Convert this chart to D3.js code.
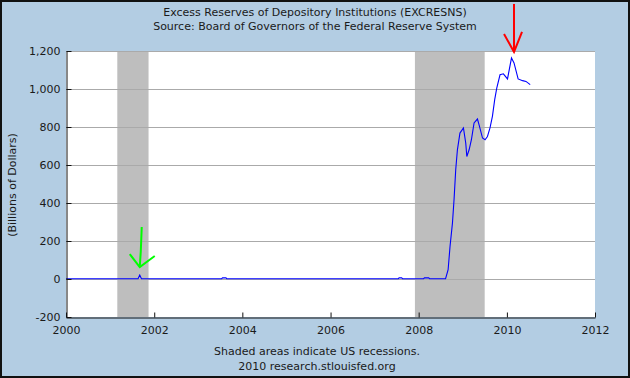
<!DOCTYPE html>
<html>
<head>
<meta charset="utf-8">
<script src="https://cdn.jsdelivr.net/npm/d3@7"></script>
<style>
  body { margin: 0; background: #fff; }
  text { font-family: "DejaVu Sans", Verdana, sans-serif; fill: #1a1a1a; }
</style>
</head>
<body>
<div id="chart"></div>
<script>
// Series: excess reserves, billions of dollars
const dates = [
  '2000-01-01', '2001-08-20', '2001-09-03', '2001-09-17',
  '2003-07-14', '2003-07-21', '2003-08-18', '2003-08-25',
  '2007-07-16', '2007-07-23', '2007-08-13', '2007-08-20',
  '2008-02-11', '2008-02-18', '2008-03-24', '2008-03-31',
  '2008-08-11', '2008-09-01', '2008-09-17', '2008-10-07', '2008-10-20',
  '2008-11-03', '2008-11-17', '2008-12-08', '2009-01-06', '2009-01-25',
  '2009-02-03', '2009-02-22', '2009-03-13', '2009-04-04', '2009-05-02',
  '2009-05-15', '2009-06-13', '2009-07-04', '2009-07-24', '2009-08-14',
  '2009-09-03', '2009-09-22', '2009-10-09', '2009-11-05', '2009-12-03',
  '2010-01-06', '2010-02-08', '2010-03-01', '2010-04-04', '2010-05-11',
  '2010-06-08', '2010-07-13'
];
const values = [
  1.5, 1.5, 21, 1.5,
  1.5, 6, 6, 1.5,
  1.5, 6, 6, 1.5,
  1.5, 6, 6, 1.5,
  2, 49, 172, 295, 417,
  575, 680, 768, 795, 716,
  645, 680, 733, 821, 842,
  812, 742, 733, 750, 795,
  856, 944, 1005, 1075, 1080,
  1053, 1163, 1137, 1053, 1044,
  1040, 1023
];

// Recessions (shaded)
const recessionStarts = ['2001-03-01', '2007-12-01'];
const recessionEnds = ['2001-11-15', '2009-07-01'];

const yTicks = [-200, 0, 200, 400, 600, 800, 1000, 1200];
const xTickYears = [2000, 2002, 2004, 2006, 2008, 2010, 2012];

// Annotation arrows: target point (date, value)
const arrowDates = ['2010-03-01', '2001-09-03'];
const arrowValues = [1195, 63];
const arrowColors = ['#ff0000', '#00ff00'];

const titleLines = [
  'Excess Reserves of Depository Institutions (EXCRESNS)',
  'Source: Board of Governors of the Federal Reserve System'
];
const footLines = [
  'Shaded areas indicate US recessions.',
  '2010 research.stlouisfed.org'
];
const yLabel = '(Billions of Dollars)';

const W = 630, H = 378;
const parse = d3.timeParse('%Y-%m-%d');
const data = dates.map((d, i) => ({date: parse(d), value: values[i]}));

const svg = d3.select('#chart').append('svg')
  .attr('width', W).attr('height', H);

// Background
svg.append('rect').attr('x', 1).attr('y', 1)
  .attr('width', W - 2).attr('height', H - 2)
  .attr('fill', '#b3cde3').attr('stroke', '#111').attr('stroke-width', 2);

const x = d3.scaleTime()
  .domain([new Date(2000, 0, 1), new Date(2012, 0, 1)])
  .range([66, 595]);
const y = d3.scaleLinear()
  .domain([-200, 1200])
  .range([317, 51]);

// Plot area
svg.append('rect')
  .attr('x', x.range()[0]).attr('y', y(1200))
  .attr('width', x.range()[1] - x.range()[0])
  .attr('height', y(-200) - y(1200))
  .attr('fill', '#fff');

// Recession bars
svg.append('g').selectAll('rect')
  .data(recessionStarts)
  .enter().append('rect')
  .attr('x', (d) => x(parse(d)))
  .attr('width', (d, i) => x(parse(recessionEnds[i])) - x(parse(d)))
  .attr('y', y(1200))
  .attr('height', y(-200) - y(1200))
  .attr('fill', '#bebebe');

// Gridlines
svg.append('g').selectAll('line')
  .data(yTicks.filter((d) => d > -200))
  .enter().append('line')
  .attr('x1', x.range()[0]).attr('x2', x.range()[1])
  .attr('y1', (d) => y(d) + 0.5).attr('y2', (d) => y(d) + 0.5)
  .attr('stroke', '#aaaaaa').attr('stroke-width', 1);

// Line
const line = d3.line()
  .x((d) => x(d.date))
  .y((d) => y(d.value));
svg.append('path')
  .datum(data)
  .attr('d', line)
  .attr('fill', 'none')
  .attr('stroke', '#0000ff')
  .attr('stroke-width', 1.1);

// Axes
const fmt = d3.format(',');
const yAxis = d3.axisLeft(y)
  .tickValues(yTicks)
  .tickSizeInner(-5).tickSizeOuter(0).tickPadding(6)
  .tickFormat((d) => d < 0 ? '-' + fmt(-d) : fmt(d));
const xAxis = d3.axisBottom(x)
  .tickValues(xTickYears.map((yr) => new Date(yr, 0, 1)))
  .tickSizeInner(-5).tickSizeOuter(0).tickPadding(9)
  .tickFormat(d3.timeFormat('%Y'));

const gy = svg.append('g')
  .attr('transform', 'translate(' + (x.range()[0] + 0.5) + ',0)')
  .call(yAxis);
const gx = svg.append('g')
  .attr('transform', 'translate(0,' + (y(-200) + 0.5) + ')')
  .call(xAxis);
[gy, gx].forEach((g) => {
  g.selectAll('path, line').attr('stroke', '#111');
  g.selectAll('text').attr('font-size', 11).attr('fill', '#1a1a1a')
    .style('font-family', '"DejaVu Sans", Verdana, sans-serif');
});

// Titles
svg.append('g').selectAll('text')
  .data(titleLines)
  .enter().append('text')
  .attr('x', 315).attr('y', (d, i) => 16 + i * 14)
  .attr('text-anchor', 'middle').attr('font-size', 11)
  .text((d) => d);

svg.append('g').selectAll('text')
  .data(footLines)
  .enter().append('text')
  .attr('x', 317).attr('y', (d, i) => 355 + i * 15)
  .attr('text-anchor', 'middle').attr('font-size', 11)
  .text((d) => d);

svg.append('text')
  .attr('transform', 'translate(16,' + 185 + ') rotate(-90)')
  .attr('text-anchor', 'middle').attr('font-size', 11)
  .text(yLabel);

// Arrows (hand-drawn look)
const arrowShapes = [
  [[[0, -48], [0, 0]], [[-10, -18], [0, 0], [8, -20]]],
  [[[2, -40], [1, -15], [0, 0]], [[-10, -13], [0, 0], [15, -11]]]
];
arrowDates.forEach((d, i) => {
  const tx = x(parse(d)), ty = y(arrowValues[i]);
  arrowShapes[i].forEach((pts) => {
    svg.append('path')
      .attr('d', d3.line()(pts.map((p) => [tx + p[0], ty + p[1]])))
      .attr('fill', 'none')
      .attr('stroke', arrowColors[i])
      .attr('stroke-width', 2);
  });
});
</script>
</body>
</html>
